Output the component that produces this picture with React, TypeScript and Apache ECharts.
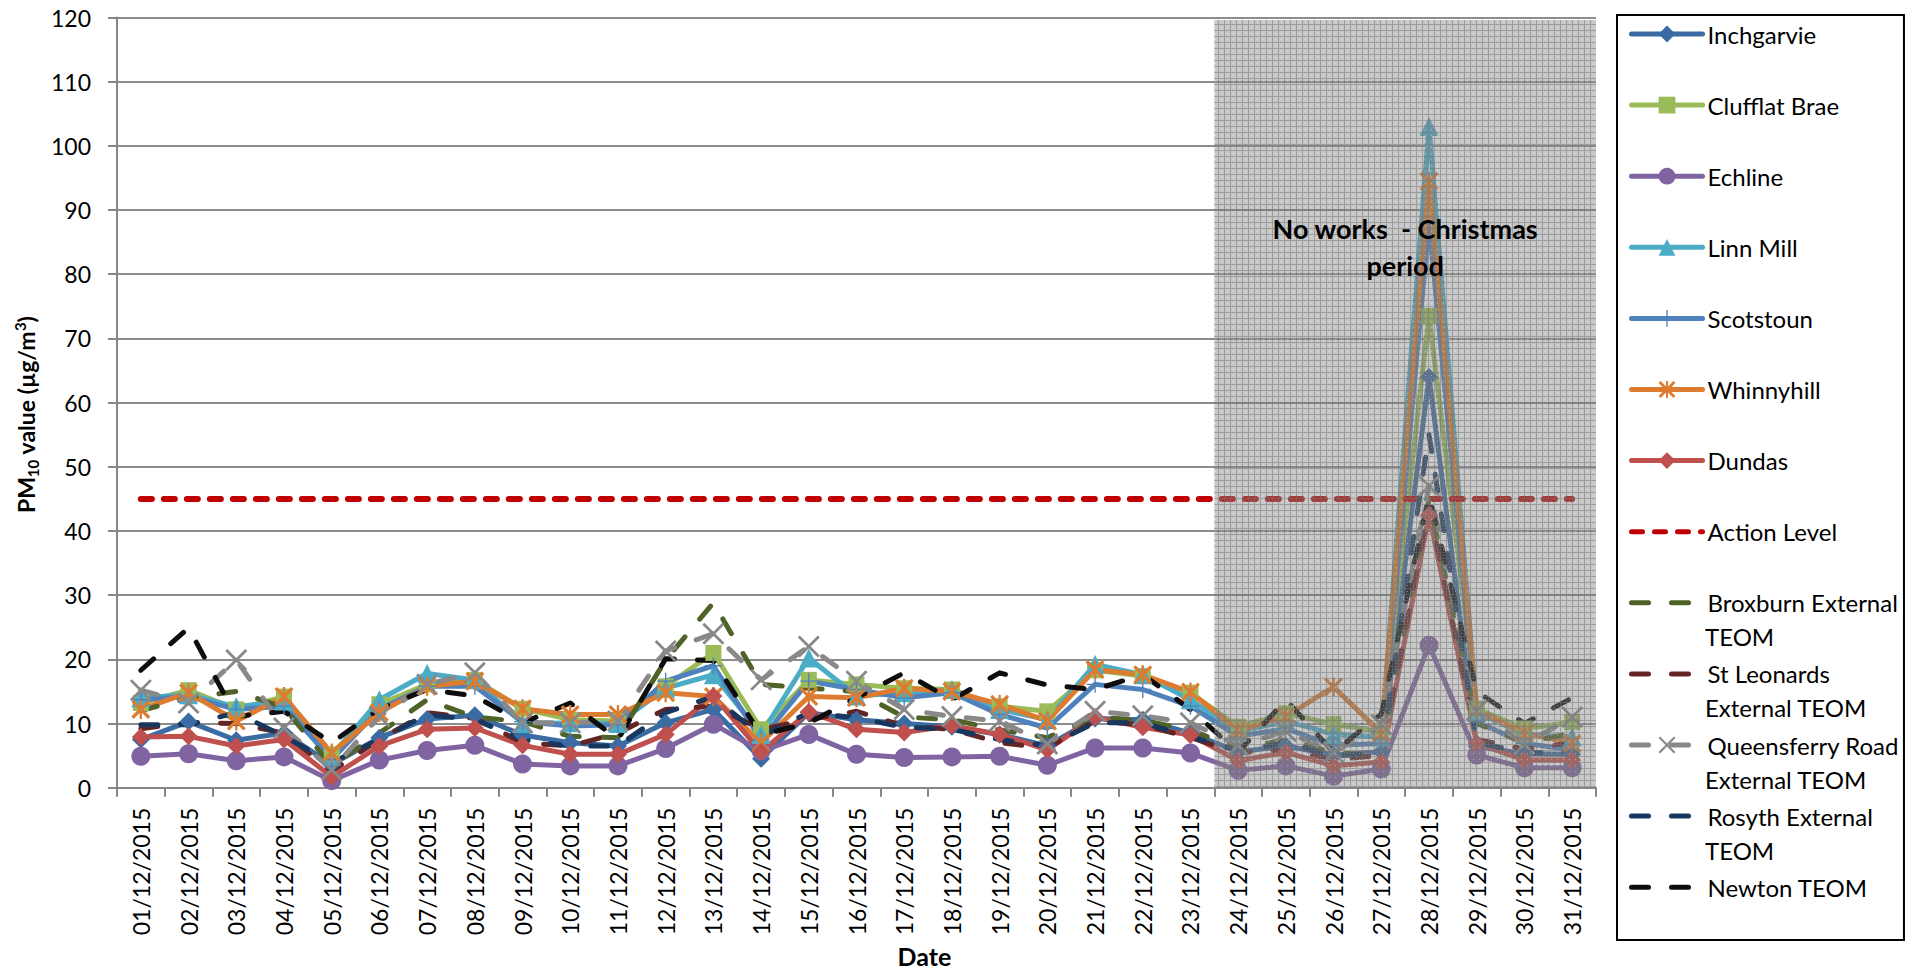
import React, { useEffect, useRef } from 'react';
import * as echarts from 'echarts';

const dates = [
  '01/12/2015', '02/12/2015', '03/12/2015', '04/12/2015', '05/12/2015', '06/12/2015', '07/12/2015',
  '08/12/2015', '09/12/2015', '10/12/2015', '11/12/2015', '12/12/2015', '13/12/2015', '14/12/2015',
  '15/12/2015', '16/12/2015', '17/12/2015', '18/12/2015', '19/12/2015', '20/12/2015', '21/12/2015',
  '22/12/2015', '23/12/2015', '24/12/2015', '25/12/2015', '26/12/2015', '27/12/2015', '28/12/2015',
  '29/12/2015', '30/12/2015', '31/12/2015',
];

const inchgarvie = [7.5, 10.3, 7.4, 8.5, 3.6, 7.8, 10.7, 11.3, 8.2, 7.0, 6.5, 10.1, 12.2, 4.5, 11.7, 10.6, 10.0, 9.5, 8.3, 6.5, 10.8, 10.6, 8.5, 5.6, 6.5, 5.1, 5.6, 64.0, 6.4, 5.3, 5.2];
const clufflatBrae = [13.2, 15.2, 12.2, 14.2, 5.2, 13.0, 16.1, 16.8, 12.3, 10.6, 10.4, 15.8, 21.0, 9.1, 16.8, 16.1, 15.5, 15.3, 12.7, 11.9, 18.3, 17.4, 14.8, 9.5, 11.6, 9.9, 8.7, 73.5, 12.3, 9.2, 10.2];
const echline = [4.9, 5.3, 4.2, 4.8, 1.1, 4.3, 5.8, 6.6, 3.7, 3.4, 3.4, 6.1, 9.9, 5.7, 8.3, 5.2, 4.7, 4.8, 4.9, 3.5, 6.2, 6.2, 5.4, 2.7, 3.4, 1.8, 2.9, 22.2, 5.1, 3.1, 3.1];
const linnMill = [14.0, 14.5, 12.6, 13.5, 4.9, 13.7, 17.8, 16.8, 10.0, 10.1, 10.0, 15.5, 17.6, 8.3, 20.2, 14.3, 14.8, 15.3, 12.2, 10.6, 19.2, 17.6, 13.7, 8.7, 10.4, 8.3, 7.9, 103.0, 11.8, 8.3, 7.9];
const scotstoun = [13.7, 14.2, 12.2, 12.7, 4.4, 12.2, 15.8, 15.8, 10.3, 9.6, 9.8, 16.6, 19.0, 7.5, 16.6, 15.3, 14.0, 14.8, 11.4, 9.3, 16.1, 15.3, 12.7, 8.0, 9.2, 6.6, 6.9, 88.0, 10.3, 6.9, 5.9];
const whinnyhill = [12.2, 14.8, 10.4, 14.2, 5.4, 11.7, 15.8, 16.6, 12.3, 11.4, 11.4, 14.8, 14.2, 7.0, 14.2, 14.0, 15.5, 15.0, 13.0, 10.4, 18.4, 17.6, 14.9, 8.9, 11.1, 15.7, 8.5, 94.5, 12.1, 8.5, 6.9];
const dundas = [7.9, 8.0, 6.5, 7.5, 1.7, 6.5, 9.1, 9.3, 6.6, 5.2, 5.2, 8.3, 14.3, 5.6, 11.8, 9.1, 8.6, 9.7, 8.3, 5.9, 11.0, 9.4, 8.2, 4.2, 5.5, 3.4, 4.0, 42.5, 6.9, 4.3, 4.3];
const actionLevel = [45, 45, 45, 45, 45, 45, 45, 45, 45, 45, 45, 45, 45, 45, 45, 45, 45, 45, 45, 45, 45, 45, 45, 45, 45, 45, 45, 45, 45, 45, 45];
const broxburn = [12.0, 14.0, 15.0, 12.5, 3.4, 8.5, 13.7, 11.0, 10.3, 8.0, 7.8, 19.9, 28.8, 16.1, 15.5, 15.0, 11.0, 10.6, 9.0, 7.8, 11.0, 10.5, 9.0, 6.0, 7.5, 5.5, 5.0, 45.0, 10.0, 7.0, 8.5];
const stLeonards = [9.2, 10.1, 10.0, 8.5, 2.6, 7.5, 11.7, 10.8, 7.0, 6.5, 8.5, 12.2, 12.7, 9.1, 10.6, 11.9, 9.6, 9.1, 7.0, 6.2, 10.4, 9.8, 7.8, 5.4, 6.0, 4.4, 5.0, 43.8, 7.5, 6.0, 7.0];
const queensferry = [15.2, 13.2, 19.9, 9.3, 2.8, 11.1, 16.1, 17.9, 10.1, 10.1, 10.4, 21.3, 24.0, 16.8, 22.0, 16.6, 12.2, 11.1, 10.4, 6.8, 11.9, 11.2, 10.1, 6.6, 8.8, 5.5, 9.8, 47.0, 12.1, 6.8, 11.0];
const rosyth = [9.8, 9.8, 11.7, 8.0, 3.9, 7.5, 11.4, 10.6, 7.5, 6.5, 6.5, 11.7, 14.2, 8.0, 11.7, 10.9, 9.4, 9.1, 7.5, 6.5, 10.1, 10.1, 8.0, 5.7, 7.0, 4.9, 5.5, 55.0, 7.0, 5.5, 5.5];
const newton = [18.3, 24.9, 11.1, 11.9, 7.0, 12.3, 15.3, 14.3, 10.1, 13.2, 7.5, 20.1, 19.8, 8.2, 10.1, 14.0, 17.9, 13.7, 17.9, 16.0, 15.3, 17.6, 12.2, 5.5, 13.7, 5.5, 11.5, 45.5, 15.0, 10.0, 14.0];

const yTicks = { min: 0, max: 120, interval: 10 };
const christmasStart = '24/12/2015';
const christmasLabel = 'No works  - Christmas\nperiod';

// legend entries: series name, first line shown in legend, wrapped second line
const legendNames = [
  'Inchgarvie', 'Clufflat Brae', 'Echline', 'Linn Mill', 'Scotstoun', 'Whinnyhill', 'Dundas',
  'Action Level', 'Broxburn External TEOM', 'St Leonards External TEOM',
  'Queensferry Road External TEOM', 'Rosyth External TEOM', 'Newton TEOM',
];
const legendFirstLine: Record<string, string> = {
  'Broxburn External TEOM': 'Broxburn External',
  'St Leonards External TEOM': 'St Leonards',
  'Queensferry Road External TEOM': 'Queensferry Road',
  'Rosyth External TEOM': 'Rosyth External',
};
const legendSecondLine: Record<string, string> = {
  'Broxburn External TEOM': 'TEOM',
  'St Leonards External TEOM': 'External TEOM',
  'Queensferry Road External TEOM': 'External TEOM',
  'Rosyth External TEOM': 'TEOM',
};
const markerless = ['Action Level', 'Broxburn External TEOM', 'St Leonards External TEOM', 'Rosyth External TEOM', 'Newton TEOM'];

const FONT = 'Lato, "Noto Sans", sans-serif';
const SYM_PLUS = 'path://M46,0 H54 V100 H46 Z M0,46 H100 V54 H0 Z';
const SYM_X = 'path://M0,9 L9,0 L100,91 L91,100 Z M91,0 L100,9 L9,100 L0,91 Z';
const SYM_STAR = 'path://M44,0 H56 V100 H44 Z M0,12 L12,0 L100,88 L88,100 Z M88,0 L100,12 L12,100 L0,88 Z';

const LONG_DASH = [17, 23];

// legend layout
const LEG_LEFT = 1617;
const LEG_TOP = 15;
const LEG_PAD_TOP = 7;
const LEG_PAD_LEFT = 12;
const LEG_ICON_W = 71;
const LEG_TEXT_H = 24;
const LEG_STEP = 71.1;
const LEG_LINE_H = 34;

function solid(name: string, data: number[], color: string, symbol: string, size: number) {
  return {
    name, type: 'line', data, symbol, symbolSize: size, showSymbol: true, showAllSymbol: true,
    lineStyle: { color, width: 5, cap: 'round', join: 'round' },
    itemStyle: { color, opacity: 1 },
  };
}
function dashed(name: string, data: number[], color: string, symbol?: string, size?: number) {
  return {
    name, type: 'line', data,
    symbol: symbol || 'none', symbolSize: size || 0, showSymbol: !!symbol, showAllSymbol: true,
    lineStyle: { color, width: 5, type: LONG_DASH, cap: 'round', join: 'round' },
    itemStyle: { color },
  };
}

const tileSvg =
  '<svg xmlns="http://www.w3.org/2000/svg" width="6" height="6">' +
  '<rect width="6" height="6" fill="rgb(130,130,130)" fill-opacity="0.44"/>' +
  '<rect width="6" height="1" fill="rgb(115,115,115)" fill-opacity="0.5"/>' +
  '<rect y="1" width="1" height="5" fill="rgb(115,115,115)" fill-opacity="0.5"/>' +
  '<rect x="3" y="3" width="1" height="1" fill="rgb(255,255,255)" fill-opacity="0.35"/>' +
  '</svg>';
const tileUrl = 'data:image/svg+xml;charset=utf-8,' + encodeURIComponent(tileSvg);

export default function App() {
  const ref = useRef<HTMLDivElement>(null);
  useEffect(() => {
    const chart = echarts.init(ref.current!, null, { renderer: 'svg' });
    const startIdx = dates.indexOf(christmasStart);
    const firstCenter = LEG_TOP + LEG_PAD_TOP + LEG_TEXT_H / 2;
    const textX = LEG_LEFT + LEG_PAD_LEFT + LEG_ICON_W + 5;
    const secondLines = legendNames
      .map((n, i) => ({ n, i }))
      .filter(({ n }) => legendSecondLine[n])
      .map(({ n, i }) => ({
        type: 'text',
        x: textX,
        y: firstCenter + i * LEG_STEP + LEG_LINE_H,
        z: 100,
        style: {
          text: legendSecondLine[n],
          font: `24px ${FONT}`,
          fill: '#000',
          align: 'left',
          verticalAlign: 'middle',
        },
      }));
    const lastCenter = firstCenter + (legendNames.length - 1) * LEG_STEP;
    const legendBottom = 940;
    const option: any = {
      animation: false,
      backgroundColor: '#ffffff',
      textStyle: { fontFamily: FONT },
      grid: { left: 117, right: 325, top: 17.5, bottom: 187.3 },
      legend: {
        orient: 'vertical',
        left: LEG_LEFT,
        top: LEG_TOP,
        padding: [LEG_PAD_TOP, 5, legendBottom - LEG_TOP - (lastCenter - LEG_TOP + LEG_TEXT_H / 2), LEG_PAD_LEFT],
        borderColor: '#000',
        borderWidth: 2,
        itemWidth: LEG_ICON_W,
        itemHeight: 21,
        itemGap: LEG_STEP - LEG_TEXT_H,
        selectedMode: false,
        lineStyle: { width: 5 },
        textStyle: { fontFamily: FONT, fontSize: 24, color: '#000' },
        formatter: (n: string) => legendFirstLine[n] || n,
        data: legendNames.map((n) => (markerless.includes(n) ? { name: n, itemStyle: { opacity: 0 } } : { name: n })),
      },
      graphic: secondLines,
      xAxis: [
        {
          type: 'category',
          data: dates,
          name: 'Date',
          nameLocation: 'middle',
          nameGap: 152,
          nameTextStyle: {
            fontFamily: FONT, fontSize: 25, fontWeight: 'bold', color: '#000',
            padding: [0, 0, 0, 136],
          },
          axisLine: { show: true, lineStyle: { color: '#868686', width: 2 } },
          axisTick: { show: true, length: 9, lineStyle: { color: '#868686', width: 2 } },
          axisLabel: { rotate: 90, margin: 20, fontSize: 23, color: '#000', fontFamily: FONT, interval: 0 },
          splitLine: { show: false },
        },
        { type: 'value', min: 0, max: dates.length, show: false },
      ],
      yAxis: {
        type: 'value',
        min: yTicks.min,
        max: yTicks.max,
        interval: yTicks.interval,
        name: '{b|PM}{s|10}{b| value (µg/m}{p|3}{b|)}',
        nameLocation: 'middle',
        nameGap: 73,
        nameTextStyle: {
          fontFamily: FONT, fontSize: 23, fontWeight: 'bold', color: '#000',
          padding: [0, 24, 0, 0],
          rich: {
            b: { fontFamily: FONT, fontSize: 23, fontWeight: 'bold', color: '#000', lineHeight: 28 },
            s: { fontFamily: FONT, fontSize: 15, fontWeight: 'bold', color: '#000', lineHeight: 14, verticalAlign: 'bottom' },
            p: { fontFamily: FONT, fontSize: 15, fontWeight: 'bold', color: '#000', lineHeight: 16, verticalAlign: 'top' },
          },
        },
        axisLine: { show: true, lineStyle: { color: '#868686', width: 2 } },
        axisTick: { show: true, length: 9, lineStyle: { color: '#868686', width: 2 } },
        axisLabel: { margin: 26, fontSize: 23, color: '#000', fontFamily: FONT },
        splitLine: { show: true, lineStyle: { color: '#8c8c8c', width: 2 } },
      },
      series: [
        solid('Inchgarvie', inchgarvie, '#3A6BA3', 'diamond', 18),
        solid('Clufflat Brae', clufflatBrae, '#9BBB59', 'rect', 16),
        solid('Echline', echline, '#8064A2', 'circle', 19),
        solid('Linn Mill', linnMill, '#4BACC6', 'triangle', 19),
        solid('Scotstoun', scotstoun, '#4F81BD', SYM_PLUS, 17),
        solid('Whinnyhill', whinnyhill, '#DD7C30', SYM_STAR, 19),
        solid('Dundas', dundas, '#C0504D', 'diamond', 18),
        {
          name: 'Action Level', type: 'line', data: actionLevel, symbol: 'none', showSymbol: false,
          lineStyle: { color: '#C00000', width: 6, type: [11, 12], cap: 'round' },
          itemStyle: { color: '#C00000' },
        },
        dashed('Broxburn External TEOM', broxburn, '#4F6228'),
        dashed('St Leonards External TEOM', stLeonards, '#632523'),
        dashed('Queensferry Road External TEOM', queensferry, '#898989', SYM_X, 22),
        dashed('Rosyth External TEOM', rosyth, '#17375E'),
        dashed('Newton TEOM', newton, '#0D0D0D'),
        {
          name: 'christmas', type: 'line', xAxisIndex: 1, data: [], symbol: 'none', silent: true,
          markArea: {
            silent: true,
            z: 10,
            itemStyle: {
              color: { image: tileUrl, repeat: 'repeat', imageWidth: 6, imageHeight: 6 },
              borderWidth: 0,
            },
            label: {
              show: true,
              position: 'insideTop',
              distance: 190,
              formatter: christmasLabel,
              fontFamily: FONT,
              fontSize: 27,
              fontWeight: 'bold',
              color: '#000',
              lineHeight: 37,
              align: 'center',
            },
            data: [[{ xAxis: startIdx, yAxis: 0 }, { xAxis: dates.length, yAxis: 119.6 }]],
          },
        },
      ],
    };
    chart.setOption(option);
    return () => chart.dispose();
  }, []);
  return (
    <div
      ref={ref}
      style={{ position: 'fixed', left: 0, top: 0, width: 1921, height: 975, background: '#fff' }}
    />
  );
}
